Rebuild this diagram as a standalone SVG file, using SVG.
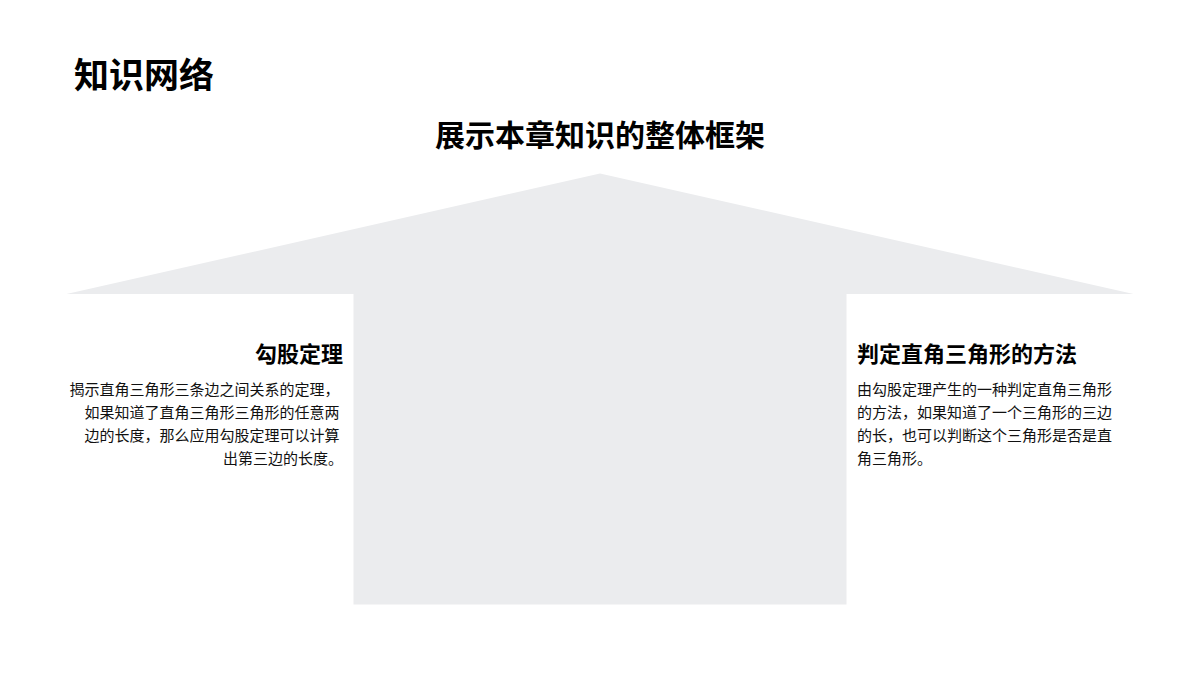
<svg xmlns="http://www.w3.org/2000/svg" width="1200" height="675" viewBox="0 0 1200 675">
<style>
.t{font-family:"Noto Sans CJK SC","Liberation Sans",sans-serif;fill:#000}
.h{font-weight:bold}
.b{font-size:15px;fill:#111}
</style>
<rect width="1200" height="675" fill="#fff"/>
<g id="shape">
<path d="M66.5,294 L600,173.5 L1133.5,294 L846.5,294 L846.5,604.5 L353.5,604.5 L353.5,294 Z" fill="#EBECEE"/>
</g>
<g id="title">
<text class="t h" x="74" y="88" font-size="35">知识网络</text>
<text class="t h" x="600" y="146" font-size="30" text-anchor="middle">展示本章知识的整体框架</text>
</g>
<g id="node-left">
<text class="t h" x="343" y="362" font-size="22" text-anchor="end">勾股定理</text>
<text class="t b" text-anchor="end">
<tspan x="343" y="395">揭示直角三角形三条边之间关系的定理，</tspan>
<tspan x="343" y="418">如果知道了直角三角形三角形的任意两</tspan>
<tspan x="343" y="441">边的长度，那么应用勾股定理可以计算</tspan>
<tspan x="343" y="464">出第三边的长度。</tspan>
</text>
</g>
<g id="node-right">
<text class="t h" x="857" y="362" font-size="22">判定直角三角形的方法</text>
<text class="t b">
<tspan x="857" y="395">由勾股定理产生的一种判定直角三角形</tspan>
<tspan x="857" y="418">的方法，如果知道了一个三角形的三边</tspan>
<tspan x="857" y="441">的长，也可以判断这个三角形是否是直</tspan>
<tspan x="857" y="464">角三角形。</tspan>
</text>
</g>
<g id="connectors"></g>
</svg>
